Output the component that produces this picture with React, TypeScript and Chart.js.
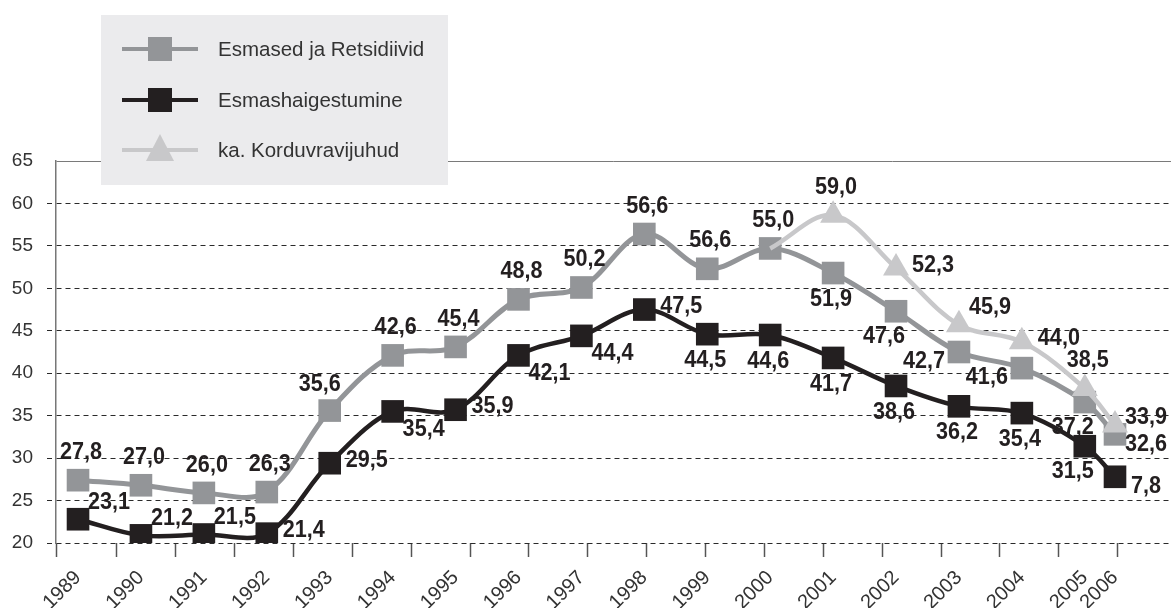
import React, { useEffect, useRef } from 'react';
import { Chart, registerables } from 'chart.js';

Chart.register(...registerables);

// ---------- data ----------
const years = ['1989', '1990', '1991', '1992', '1993', '1994', '1995', '1996', '1997', '1998', '1999', '2000', '2001', '2002', '2003', '2004', '2005', '2006'];
// horizontal position of each year's point, in year units (2006 is squeezed in the original)
const yearPositions = [1989, 1990, 1991, 1992, 1993, 1994, 1995, 1996, 1997, 1998, 1999, 2000, 2001, 2002, 2003, 2004, 2005, 2005.48];

const seriesNames = ['Esmased ja Retsidiivid', 'Esmashaigestumine', 'ka. Korduvravijuhud'];

const totalValues = [27.4, 26.8, 25.9, 26.0, 35.6, 42.1, 43.1, 48.7, 50.1, 56.4, 52.3, 54.7, 51.8, 47.3, 42.5, 40.6, 36.6, 32.8];
const totalLabels = ['27,8', '27,0', '26,0', '26,3', '35,6', '42,6', '45,4', '48,8', '50,2', '56,6', '56,6', '55,0', '51,9', '47,6', '42,7', '41,6', '37,2', '32,6'];
const totalPlace = ['top', 'top', 'top', 'top', 'tl', 'top', 'top', 'top', 'top', 'top', 'top', 'top', 'bottom', 'bl', 'left', 'left', 'bl', 'rlow'];

const firstValues = [22.8, 20.9, 21.0, 21.1, 29.4, 35.5, 35.7, 42.1, 44.4, 47.5, 44.6, 44.5, 41.8, 38.5, 36.1, 35.3, 31.4, 27.8];
const firstLabels = ['23,1', '21,2', '21,5', '21,4', '29,5', '35,4', '35,9', '42,1', '44,4', '47,5', '44,5', '44,6', '41,7', '38,6', '36,2', '35,4', '31,5', '7,8'];
const firstPlace = ['tr', 'tr', 'tr', 'right', 'right', 'br', 'right', 'br', 'br', 'right', 'bottom', 'bottom', 'bottom', 'bottom', 'bottom', 'bottom', 'bl', 'rlow'];

const repeatValues = [null, null, null, null, null, null, null, null, null, null, null, 54.7, 58.6, 52.4, 45.7, 43.7, 38.2, 33.9];
const repeatLabels = ['', '', '', '', '', '', '', '', '', '', '', '', '59,0', '52,3', '45,9', '44,0', '38,5', '33,9'];
const repeatPlace = ['', '', '', '', '', '', '', '', '', '', '', '', 'top', 'right', 'tr', 'right', 'top', 'rhigh'];

const yMin = 20;
const yMax = 65;
const yStep = 5;

// ---------- styles ----------
const colTotal = '#939598';
const colFirst = '#231f20';
const colRepeat = '#c8c8ca';
const textCol = '#333333';
const baseFont = "'Liberation Sans', Arial, sans-serif";
const labelFont = "bold 24px 'Liberation Sans', Arial, sans-serif";
const labelSqueeze = 0.9;

const placeOffsets: Record<string, [number, number]> = {
  top: [3, -28],
  bottom: [-2, 26],
  right: [37, -3],
  rhigh: [31, -8],
  tr: [31, -17],
  br: [31, 18],
  bl: [-12, 25],
  left: [-35, 9],
  tl: [-10, -26],
  rlow: [31, 10],
};

const labelSets = [totalLabels, firstLabels, repeatLabels];
const placeSets = [totalPlace, firstPlace, repeatPlace];

const dataLabelPlugin = {
  id: 'valueLabels',
  afterDatasetsDraw(chart: any) {
    const ctx = chart.ctx;
    chart.data.datasets.forEach((_ds: any, i: number) => {
      const meta = chart.getDatasetMeta(i);
      meta.data.forEach((pt: any, j: number) => {
        const txt = labelSets[i][j];
        if (!txt) return;
        const off = placeOffsets[placeSets[i][j]] || [0, -28];
        ctx.save();
        ctx.font = labelFont;
        ctx.fillStyle = colFirst;
        ctx.textAlign = 'center';
        ctx.textBaseline = 'middle';
        ctx.translate(pt.x + off[0], pt.y + off[1]);
        ctx.scale(labelSqueeze, 1);
        ctx.fillText(txt, 0, 0);
        ctx.restore();
      });
    });
  },
};

const legendPlugin = {
  id: 'boxLegend',
  afterDraw(chart: any) {
    const ctx = chart.ctx;
    ctx.save();
    ctx.fillStyle = '#ebebed';
    ctx.fillRect(101, 15, 347, 170);
    const rows = [49, 100, 150];
    const cols = [colTotal, colFirst, colRepeat];
    rows.forEach((y, i) => {
      ctx.strokeStyle = cols[i];
      ctx.lineWidth = 4;
      ctx.beginPath();
      ctx.moveTo(122, y);
      ctx.lineTo(198, y);
      ctx.stroke();
      ctx.fillStyle = cols[i];
      if (i < 2) {
        ctx.fillRect(160 - 12, y - 12, 24, 24);
      } else {
        ctx.beginPath();
        ctx.moveTo(160, y - 16);
        ctx.lineTo(174, y + 11);
        ctx.lineTo(146, y + 11);
        ctx.closePath();
        ctx.fill();
      }
      ctx.fillStyle = textCol;
      ctx.font = `20.5px ${baseFont}`;
      ctx.textAlign = 'left';
      ctx.textBaseline = 'middle';
      ctx.fillText(seriesNames[i], 218, y + 1);
    });
    ctx.restore();
  },
};

export default function App() {
  const ref = useRef<HTMLCanvasElement>(null);

  useEffect(() => {
    if (!ref.current) return;
    const toPts = (vals: (number | null)[]) => vals.map((v, i) => ({ x: yearPositions[i], y: v }));
    const chart = new Chart(ref.current, {
      type: 'line',
      data: {
        datasets: [
          {
            label: seriesNames[0],
            data: toPts(totalValues) as any,
            xAxisID: 'x',
            yAxisID: 'y',
            borderColor: colTotal,
            backgroundColor: colTotal,
            borderWidth: 5,
            tension: 0.35,
            pointStyle: 'rect',
            pointRadius: 16,
            pointBorderWidth: 0,
            order: 3,
          },
          {
            label: seriesNames[1],
            data: toPts(firstValues) as any,
            xAxisID: 'x',
            yAxisID: 'y',
            borderColor: colFirst,
            backgroundColor: colFirst,
            borderWidth: 4.5,
            tension: 0.35,
            pointStyle: 'rect',
            pointRadius: 16,
            pointBorderWidth: 0,
            order: 2,
          },
          {
            label: seriesNames[2],
            data: toPts(repeatValues) as any,
            xAxisID: 'x',
            yAxisID: 'y',
            borderColor: colRepeat,
            backgroundColor: colRepeat,
            borderWidth: 4.5,
            tension: 0.35,
            pointStyle: 'triangle',
            pointRadius: (c: any) => (repeatLabels[c.dataIndex] ? 15 : 0),
            pointBorderWidth: 0,
            order: 1,
          },
        ],
      },
      options: {
        animation: false,
        responsive: true,
        maintainAspectRatio: false,
        events: [],
        layout: { autoPadding: false, padding: { top: 161, left: 0, right: 0, bottom: 0 } },
        plugins: { legend: { display: false }, tooltip: { enabled: false } },
        scales: {
          x: {
            type: 'linear',
            position: 'bottom',
            weight: 1,
            min: 1988.65,
            max: 2006.37,
            afterBuildTicks: (s: any) => {
              s.ticks = yearPositions.map((v) => ({ value: v }));
            },
            afterFit: (s: any) => {
              s.paddingLeft = 0;
              s.paddingRight = 0;
              s.height = 51;
            },
            ticks: {
              callback: (_v: any, i: number) => years[i],
              autoSkip: false,
              minRotation: 45,
              maxRotation: 45,
              padding: 9,
              color: textCol,
              font: { size: 20, family: baseFont },
            },
            grid: { display: false, drawTicks: false },
            border: { display: false },
          },
          xTicks: {
            type: 'linear',
            axis: 'x',
            position: 'bottom',
            weight: 0,
            min: -0.032,
            max: 18.905,
            afterBuildTicks: (s: any) => {
              const t = [{ value: s.min }];
              for (let k = 1; k <= 18; k++) t.push({ value: k });
              s.ticks = t;
            },
            afterFit: (s: any) => {
              s.paddingLeft = 0;
              s.paddingRight = 0;
              s.height = 14;
            },
            ticks: { display: false },
            grid: { drawOnChartArea: false, drawTicks: true, tickLength: 14, tickColor: '#555', tickWidth: 1.5 },
            border: { display: false },
          },
          y: {
            type: 'linear',
            position: 'left',
            min: yMin,
            max: yMax,
            afterFit: (s: any) => {
              s.width = 56;
            },
            ticks: {
              stepSize: yStep,
              padding: 14,
              color: textCol,
              font: { size: 19, family: baseFont },
            },
            grid: {
              color: (c: any) => (c.tick && c.tick.value === yMax ? '#7a7a7a' : '#2a2a2a'),
              lineWidth: 1,
              tickLength: 9,
              tickColor: (c: any) => (c.tick && c.tick.value === yMax ? 'rgba(0,0,0,0)' : '#2a2a2a'),
              tickBorderDash: [5, 4],
            },
            border: {
              display: true,
              color: '#777',
              width: 1.5,
              dash: (c: any) => (c.tick && c.tick.value !== yMax ? [5, 4] : []),
            } as any,
          },
        },
      } as any,
      plugins: [dataLabelPlugin, legendPlugin],
    });
    return () => chart.destroy();
  }, []);

  return (
    <div style={{ position: 'fixed', left: 0, top: 0, width: 1171, height: 608, background: '#fff' }}>
      <canvas ref={ref} />
    </div>
  );
}
